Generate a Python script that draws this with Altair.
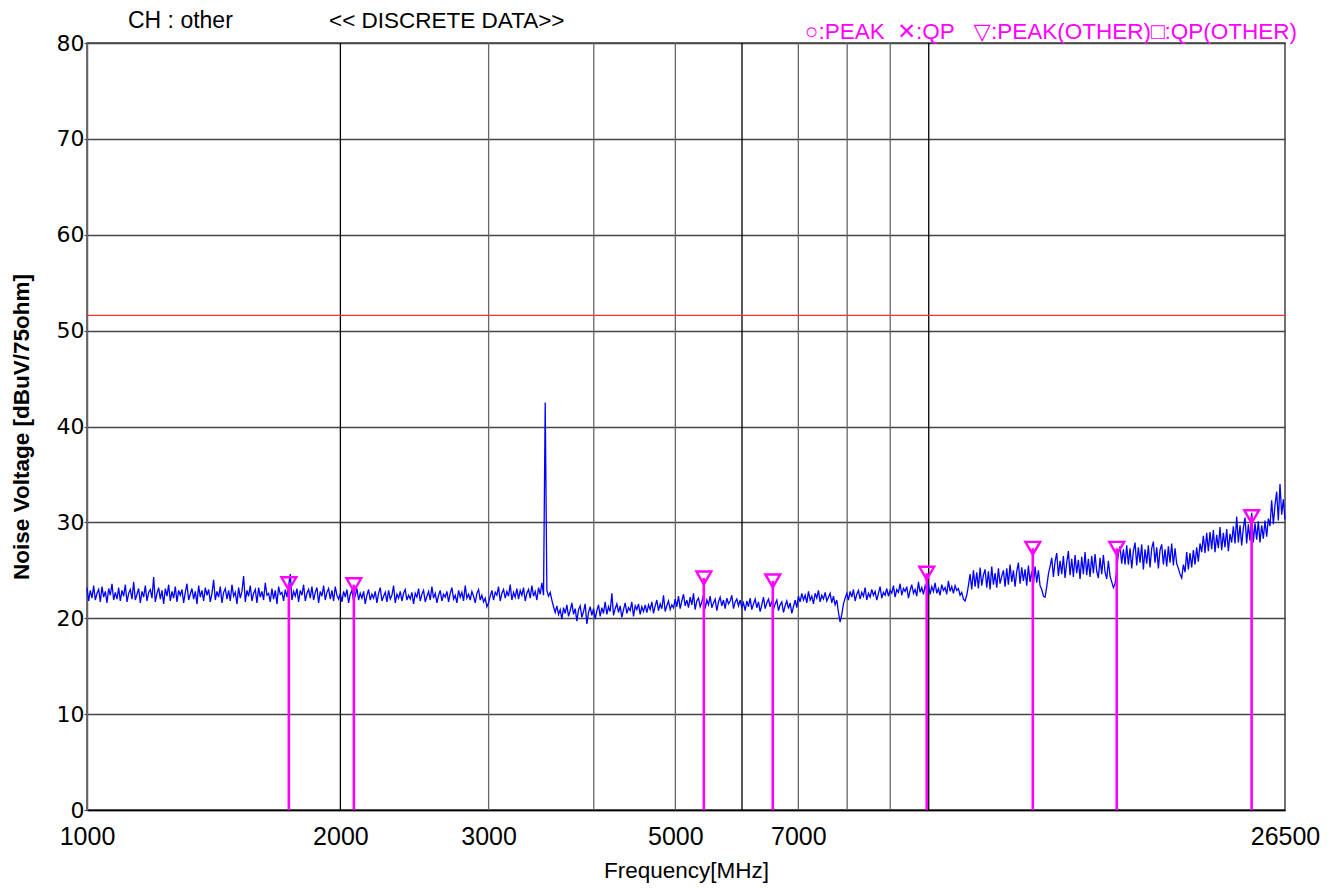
import altair as alt
import pandas as pd
import numpy as np

# ---------------- data ----------------
F_START, F_STOP = 1000, 26500
Y_MIN, Y_MAX = 0, 80

# noise trace (dBuV), sweep points 1000 -> 26500 MHz
trace_values = [
    23.2, 21.8, 22.9, 22.1, 23.4, 21.9, 22.6, 23.0, 21.7, 23.3, 22.2, 22.8, 21.6, 23.1, 22.4, 23.6, 21.9, 22.7, 22.0, 23.2, 21.8, 22.9, 22.3, 23.5,
    21.7, 22.6, 23.0, 22.0, 23.8, 21.9, 22.5, 23.1, 21.6, 22.8, 22.2, 23.4, 21.8, 22.7, 23.0, 22.1, 24.3, 21.7, 22.6, 23.2, 22.0, 22.9, 21.5, 23.1,
    22.3, 23.5, 21.8, 22.8, 22.1, 23.3, 21.7, 22.9, 22.4, 23.0, 21.6, 22.7, 23.6, 21.9, 22.5, 23.1, 22.0, 22.8, 21.5, 23.4, 22.2, 22.9, 21.8, 23.2,
    22.4, 23.0, 21.7, 22.6, 24.0, 21.9, 22.8, 22.2, 23.3, 21.6, 22.7, 23.1, 22.0, 22.9, 21.8, 23.5, 22.3, 22.7, 21.5, 23.2, 22.1, 22.8, 24.4, 21.7,
    22.9, 22.3, 23.4, 21.8, 22.6, 23.0, 21.6, 23.2, 22.2, 22.8, 21.9, 23.7, 22.4, 22.6, 21.7, 23.1, 22.0, 22.9, 21.5, 23.3, 22.5, 22.7, 21.8, 23.0,
    22.2, 23.4, 24.6, 21.9, 22.8, 22.3, 23.1, 21.7, 22.9, 22.4, 23.5, 21.8, 22.6, 23.0, 22.1, 23.3, 21.9, 22.7, 23.2, 21.6, 22.8, 22.3, 23.4, 21.9,
    22.7, 23.1, 22.0, 22.9, 21.8, 23.3, 22.4, 22.0, 22.6, 21.7, 22.8, 22.2, 23.0, 21.6, 22.5, 22.9, 21.8, 22.4, 23.1, 21.9, 22.6, 22.1, 22.8, 21.5,
    22.4, 23.0, 21.9, 22.5, 22.1, 22.8, 21.6, 22.6, 23.2, 21.8, 22.3, 22.7, 21.7, 22.9, 22.0, 22.4, 23.4, 21.6, 22.5, 22.1, 22.8, 21.8, 22.6, 23.0,
    21.9, 22.4, 22.0, 22.7, 21.5, 22.6, 22.2, 23.1, 21.8, 22.5, 22.9, 21.7, 22.3, 22.8, 21.9, 23.3, 22.1, 22.6, 21.6, 22.4, 22.9, 21.8, 22.5, 22.2,
    22.8, 21.7, 22.6, 23.2, 22.0, 22.4, 21.6, 22.9, 22.2, 22.7, 21.8, 23.4, 22.1, 22.5, 21.9, 22.8, 22.3, 21.6, 22.6, 23.0, 21.9, 22.4, 21.7, 22.1,
    21.2, 21.6, 22.3, 22.9, 21.9, 22.7, 22.4, 23.3, 21.8, 22.6, 23.0, 22.1, 22.8, 22.3, 23.5, 21.9, 22.7, 22.2, 23.1, 22.0, 22.9, 22.4, 23.2, 21.8,
    22.6, 23.0, 22.1, 23.4, 22.3, 22.8, 21.9, 23.2, 22.5, 23.7, 22.4, 42.5, 22.9, 22.3, 22.7, 21.9, 21.2, 20.6, 21.3, 20.4, 20.9, 19.9, 21.1, 20.5,
    21.4, 20.2, 20.8, 21.6, 20.4, 21.0, 19.7, 20.9, 21.3, 20.1, 20.7, 21.5, 19.4, 20.6, 21.2, 20.3, 21.0, 19.9, 20.8, 21.4, 20.2, 21.1, 20.5, 21.7,
    20.4, 21.2, 20.7, 22.6, 20.3, 21.0, 21.5, 20.6, 21.3, 20.1, 20.9, 21.6, 20.5, 21.1, 20.8, 21.7, 20.2, 21.3, 20.9, 21.5, 20.4, 21.2, 20.7, 21.4,
    20.6, 21.4, 20.9, 21.7, 20.5, 21.3, 21.9, 20.8, 21.5, 21.0, 22.4, 20.7, 21.3, 21.8, 20.9, 21.4, 21.1, 22.0, 21.2, 22.3, 21.0, 21.8, 22.5, 21.3,
    21.9, 21.1, 22.2, 21.4, 22.6, 20.9, 21.8, 22.1, 21.2, 21.7, 22.4, 21.0, 21.9, 21.4, 22.3, 21.1, 21.6, 22.0, 20.8, 21.7, 22.2, 21.3, 21.9, 21.0,
    22.1, 21.5, 21.8, 22.4, 21.0, 21.7, 22.0, 21.3, 21.9, 21.1, 21.6, 20.8, 21.8, 21.2, 22.1, 20.9, 21.5, 22.0, 21.1, 21.7, 20.7, 21.4, 22.2, 21.0,
    21.6, 22.0, 21.2, 21.8, 20.9, 21.5, 21.9, 20.8, 21.4, 21.7, 20.6, 21.3, 21.8, 21.0, 21.6, 20.5, 21.2, 21.9, 21.1, 22.3, 21.7, 22.6, 21.9, 22.4,
    21.6, 22.8, 21.9, 22.3, 21.5, 22.6, 22.1, 22.9, 21.7, 22.4, 22.0, 22.7, 21.8, 22.2, 22.6, 21.6, 22.3, 21.4, 21.9, 20.6, 19.6, 20.4, 21.5, 22.1,
    22.6, 21.9, 22.8, 22.2, 23.0, 21.8, 22.5, 22.9, 22.0, 22.7, 22.3, 23.2, 21.9, 22.6, 22.2, 23.0, 22.4, 22.8, 21.9, 22.6, 23.3, 22.1, 22.7, 22.4,
    23.1, 22.3, 22.9, 22.6, 23.4, 22.2, 23.0, 22.7, 23.6, 22.4, 23.1, 22.8, 23.3, 22.1, 22.9, 23.5, 22.6, 23.0, 22.3, 23.8, 22.7, 23.2, 22.5, 23.4,
    22.9, 23.6, 22.5, 23.3, 22.8, 23.7, 22.6, 23.1, 22.4, 23.5, 22.9, 23.2, 22.5, 23.9, 22.8, 23.3, 22.6, 23.4, 22.9, 23.1, 22.4, 22.7, 22.0, 21.8,
    22.4, 23.4, 24.6, 23.0, 25.0, 23.3, 24.8, 23.1, 25.3, 23.4, 24.5, 25.1, 23.2, 24.9, 23.0, 25.4, 23.5, 24.7, 23.2, 25.2, 23.6, 24.4, 25.0, 23.3,
    25.2, 23.5, 25.6, 23.8, 25.0, 23.3, 24.9, 25.8, 23.6, 25.3, 23.9, 25.1, 23.4, 25.5, 23.8, 24.9, 23.5, 25.4, 23.7, 25.0, 23.4, 23.0, 22.3, 22.2,
    23.3, 24.6, 25.4, 26.3, 24.3, 25.9, 26.8, 24.4, 26.0, 24.6, 26.5, 24.2, 25.8, 27.0, 24.5, 26.2, 24.3, 26.6, 24.7, 26.1, 24.1, 26.4, 24.6, 26.9,
    24.5, 26.2, 24.3, 26.5, 24.7, 26.7, 24.9, 24.2, 26.3, 24.6, 26.6, 24.8, 24.1, 26.0, 24.4, 23.8, 23.2, 23.6, 25.0, 26.8, 27.5, 25.7, 27.2, 25.6,
    27.6, 25.6, 27.3, 25.2, 27.0, 27.9, 25.5, 27.4, 25.8, 27.7, 25.1, 27.2, 25.7, 27.6, 25.3, 27.3, 28.0, 25.8, 27.4, 25.2, 27.1, 27.7, 25.6, 27.2,
    25.4, 27.5, 25.8, 27.8, 25.5, 27.3, 25.7, 25.2, 24.6, 24.2, 25.6, 24.8, 26.9, 25.1, 26.8, 25.3, 27.1, 25.6, 27.4, 25.9, 27.8, 26.9, 28.6, 26.8,
    28.9, 27.0, 29.0, 27.2, 29.2, 26.9, 28.7, 27.3, 29.5, 27.1, 28.9, 27.4, 29.3, 27.0, 28.8, 27.9, 29.6, 27.8, 30.6, 27.9, 29.7, 27.6, 29.4, 30.5,
    27.8, 29.8, 28.1, 31.0, 27.9, 29.9, 28.2, 30.1, 27.9, 29.7, 28.3, 30.2, 28.5, 30.4, 29.6, 32.3, 29.8, 31.8, 33.2, 30.2, 34.0, 30.8, 32.4, 30.3,
]

# discrete peak markers
marker_freq = [1737, 2075, 5405, 6527, 9945, 13293, 16724, 24187]
marker_level = [23.6, 23.5, 24.2, 23.9, 24.7, 27.3, 27.3, 30.6]

limit_level = 51.6

grid_freq = [2000, 3000, 4000, 5000, 6000, 7000, 8000, 9000, 10000]
grid_color = ["#000000", "#666666", "#666666", "#666666", "#000000", "#666666", "#666666", "#666666", "#000000"]

x_tick_values = [1000, 2000, 3000, 5000, 7000, 26500]
y_tick_values = [0, 10, 20, 30, 40, 50, 60, 70, 80]

# ---------------- tables ----------------
trace_df = pd.DataFrame({
    "freq": np.geomspace(F_START, F_STOP, len(trace_values)),
    "level": trace_values,
})
marker_df = pd.DataFrame({"freq": marker_freq, "level": marker_level, "base": 0})
grid_df = pd.DataFrame({"freq": grid_freq, "color": grid_color})
limit_df = pd.DataFrame({"level": [limit_level]})

FONT = "Liberation Sans, Arial, DejaVu Sans"

xscale = alt.Scale(type="log", domain=[F_START, F_STOP], nice=False, zero=False)
yscale = alt.Scale(domain=[Y_MIN, Y_MAX], nice=False, zero=False)

x_axis = alt.Axis(
    values=x_tick_values, title="Frequency[MHz]", grid=False, ticks=False,
    labelFontSize=25, labelPadding=14, labelFlush=False, labelColor="#000",
    labelFont=FONT, domainColor="#000", domainWidth=1.5,
    titleFontSize=22.5, titleFontWeight="normal", titleFont=FONT, titlePadding=10,
    titleColor="#000", format="d", labelOverlap=False,
)
y_axis = alt.Axis(
    values=y_tick_values, title="Noise Voltage [dBuV/75ohm]", grid=True,
    gridColor="#444", gridWidth=1.3, tickColor="#444", tickSize=3,
    labelFontSize=22, labelPadding=0, labelFont="DejaVu Sans", labelColor="#000",
    domainColor="#666", domainWidth=1.5,
    titleFontSize=22.5, titleFontWeight="bold", titleFont=FONT, titlePadding=23,
    titleColor="#000", format="d",
)

base_trace = alt.Chart(trace_df).mark_line(color="#0000ff", strokeWidth=1.3).encode(
    x=alt.X("freq:Q", scale=xscale, axis=x_axis),
    y=alt.Y("level:Q", scale=yscale, axis=y_axis),
)

vgrid = alt.Chart(grid_df).mark_rule(strokeWidth=1.3).encode(
    x=alt.X("freq:Q", scale=xscale),
    color=alt.Color("color:N", scale=None),
)

limit_line = alt.Chart(limit_df).mark_rule(color="#ff3030", strokeWidth=1.2).encode(
    y=alt.Y("level:Q", scale=yscale),
)

stems = alt.Chart(marker_df).mark_rule(color="#ff00ff", strokeWidth=2.6).encode(
    x=alt.X("freq:Q", scale=xscale),
    y=alt.Y("base:Q", scale=yscale),
    y2="level:Q",
)

tris = alt.Chart(marker_df).mark_point(
    shape="triangle-down", filled=False, color="#ff00ff", strokeWidth=2.4, size=220, opacity=1
).encode(
    x=alt.X("freq:Q", scale=xscale),
    y=alt.Y("level:Q", scale=yscale),
)

def label(txt, x, y, color="#000", size=20, align="left"):
    return alt.Chart(pd.DataFrame({"t": [txt]})).mark_text(
        font=FONT, fontSize=size, color=color, align=align, baseline="alphabetic"
    ).encode(text="t:N", x=alt.value(x), y=alt.value(y))

NB = "\u00a0"
t1 = label("CH : other", 128 - 87, 28 - 43, size=23)
t2 = label("<< DISCRETE DATA>>", 329 - 87, 28 - 43, size=22.5)
t3 = label("\u25cb:PEAK" + NB * 2 + "\u2715:QP" + NB * 3 + "\u25bd:PEAK(OTHER)\u25a1:QP(OTHER)",
           1297 - 87, 39 - 43, color="#ff00ff", size=22.5, align="right")

chart = alt.layer(vgrid, limit_line, base_trace, stems, tris, t1, t2, t3).properties(
    width=1198, height=767,
    padding={"left": 87, "top": 43, "right": 59, "bottom": 78},
    autosize=alt.AutoSizeParams(type="none"),
    background="white",
).configure_view(stroke="#444", strokeWidth=1.5)

chart.save("out.html", embed_options={"renderer": "svg", "actions": False})
